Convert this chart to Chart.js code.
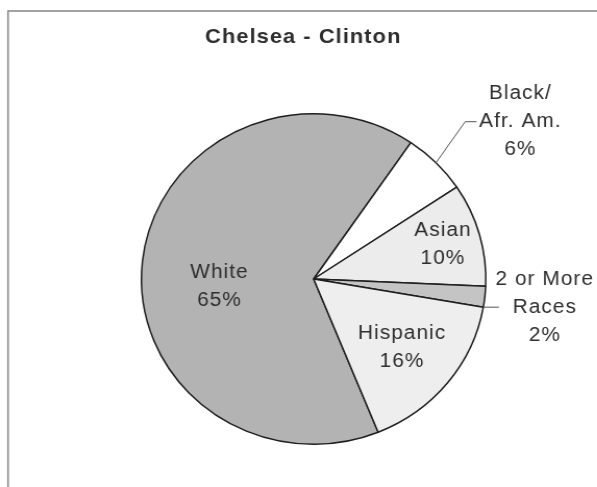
<!DOCTYPE html>
<html>
<head>
<meta charset="utf-8">
<script src="https://cdn.jsdelivr.net/npm/chart.js@4/dist/chart.umd.min.js"></script>
<style>
  html, body { margin: 0; padding: 0; background: #fff; overflow: hidden; }
  /* the whole figure is drawn slightly wider than tall */
  #wrap { position: absolute; left: 0; top: 0; width: 573px; height: 487px;
          transform: scaleX(1.042); transform-origin: 0 0; }
</style>
</head>
<body>
<div id="wrap"><canvas id="c" width="573" height="487"></canvas></div>
<script>
// Chelsea - Clinton: population share by race / ethnicity (percent)
const chartTitle = 'Chelsea - Clinton';
const categories = ['White', 'Black/Afr. Am.', 'Asian', '2 or More Races', 'Hispanic'];
const shares = [65, 6, 10, 2, 16];
const labelLines = [['White'], ['Black/', 'Afr. Am.'], ['Asian'], ['2 or More', 'Races'], ['Hispanic']];

const sliceColors = ['#b3b3b3', '#ffffff', '#ececec', '#c4c4c4', '#eeeeee'];
const FONT = "'Liberation Sans', Arial, sans-serif";
const TEXT = '#2e2e2e';
const LINE_H = 28;

// label placement: inside labels sit on the slice bisector, outside ones use a leader line
const labelLayout = [
  { kind: 'inside', r: 0.55, dx: 0, dy: 17 },
  { kind: 'outside', anchor: 'mid', elbow: [28, -41], run: 11, textGap: 42 },
  { kind: 'inside', r: 0.78, dx: 0, dy: 0 },
  { kind: 'outside', anchor: 'end', elbow: null, run: 15, textGap: 44 },
  { kind: 'inside', r: 0.66, dx: 0, dy: 0 }
];

function drawBlock(ctx, lines, cx, cy) {
  const n = lines.length;
  lines.forEach((t, k) => {
    ctx.fillText(t, cx, cy + (k - (n - 1) / 2) * LINE_H);
  });
}

const sliceLabels = {
  id: 'sliceLabels',
  beforeDraw(chart) {
    const ctx = chart.ctx;
    ctx.save();
    ctx.strokeStyle = '#8c8c8c';
    ctx.lineWidth = 1.6;
    ctx.strokeRect(7.7, 11, 640, 520);
    ctx.restore();
  },
  afterDatasetsDraw(chart) {
    const ctx = chart.ctx;
    const meta = chart.getDatasetMeta(0);
    const total = shares.reduce((a, b) => a + b, 0);
    ctx.save();
    if ('letterSpacing' in ctx) ctx.letterSpacing = '1px';
    ctx.fillStyle = TEXT;
    ctx.textAlign = 'center';
    ctx.textBaseline = 'middle';

    // title
    ctx.font = 'bold 21px ' + FONT;
    ctx.fillText(chartTitle, 291, 37);

    ctx.font = '20px ' + FONT;
    meta.data.forEach((arc, i) => {
      const p = arc.getProps(['x', 'y', 'startAngle', 'endAngle', 'outerRadius'], true);
      const lay = labelLayout[i];
      const lines = labelLines[i].concat([shares[i] + '%']);
      const mid = (p.startAngle + p.endAngle) / 2;
      if (lay.kind === 'inside') {
        const cx = p.x + Math.cos(mid) * p.outerRadius * lay.r + lay.dx;
        const cy = p.y + Math.sin(mid) * p.outerRadius * lay.r + lay.dy;
        drawBlock(ctx, lines, cx, cy);
      } else {
        const a = lay.anchor === 'end' ? p.endAngle : mid;
        const sx = p.x + Math.cos(a) * p.outerRadius;
        const sy = p.y + Math.sin(a) * p.outerRadius;
        ctx.save();
        ctx.strokeStyle = '#555';
        ctx.lineWidth = 1;
        ctx.beginPath();
        ctx.moveTo(sx, sy);
        let ex = sx, ey = sy;
        if (lay.elbow) {
          ex += lay.elbow[0]; ey += lay.elbow[1];
          ctx.lineTo(ex, ey);
        }
        ex += lay.run;
        ctx.lineTo(ex, ey);
        ctx.stroke();
        ctx.restore();
        drawBlock(ctx, lines, ex + lay.textGap, ey);
      }
    });
    ctx.restore();
  }
};

new Chart(document.getElementById('c'), {
  type: 'pie',
  data: {
    labels: categories,
    datasets: [{
      data: shares,
      backgroundColor: sliceColors,
      borderColor: '#1e1e1e',
      borderWidth: 1.5,
      hoverOffset: 0
    }]
  },
  options: {
    responsive: false,
    animation: false,
    events: [],
    rotation: 158,
    layout: { padding: { left: 135, right: 106, top: 113, bottom: 42 } },
    plugins: {
      legend: { display: false },
      tooltip: { enabled: false },
      title: { display: false }
    }
  },
  plugins: [sliceLabels]
});
</script>
</body>
</html>
